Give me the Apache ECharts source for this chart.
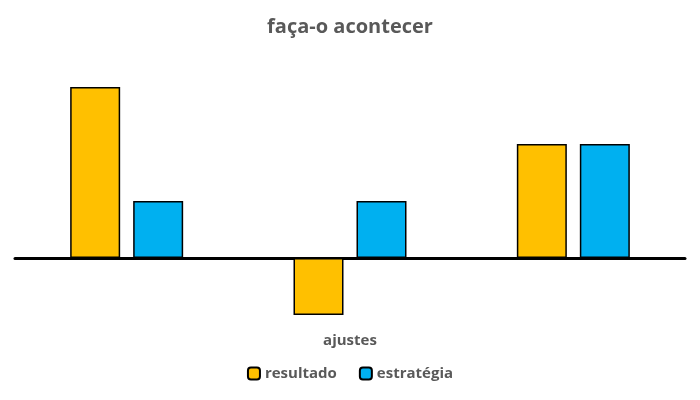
<html>
<head>
    <script src="https://cdnjs.cloudflare.com/ajax/libs/echarts/6.0.0/echarts.min.js"></script>
</head>
<body style="margin:0">
    <div id="main" style="width:700px;height:400px;"></div>
    <script>
        var categories = ['', 'ajustes', ''];
        var resultado = [3, -1, 2];
        var estrategia = [1, 1, 2];

        var myChart = echarts.init(document.getElementById('main'));
        var barStyle = { borderColor: '#000', borderWidth: 1.5 };
        myChart.setOption({
            title: {
                text: 'faça-o acontecer',
                left: 'center',
                top: 12,
                textStyle: { color: '#595959', fontSize: 20, fontWeight: 'bold', fontFamily: 'Open Sans' }
            },
            legend: {
                bottom: 14,
                itemWidth: 12,
                itemHeight: 12,
                itemGap: 22,
                textStyle: { color: '#595959', fontSize: 15, fontWeight: 'bold', fontFamily: 'Open Sans' }
            },
            grid: { left: 15, right: 15, top: 30, bottom: 85 },
            xAxis: {
                type: 'category',
                data: categories,
                axisTick: { show: false },
                axisLine: { lineStyle: { color: '#000', width: 3 } },
                axisLabel: { color: '#595959', fontSize: 15, fontWeight: 'bold', fontFamily: 'Open Sans', margin: 18 }
            },
            yAxis: {
                type: 'value', min: -1, max: 4, interval: 1,
                show: false
            },
            series: [
                { name: 'resultado', type: 'bar', data: resultado, barWidth: 50, barGap: '26%',
                  itemStyle: Object.assign({ color: '#FFC000' }, barStyle) },
                { name: 'estratégia', type: 'bar', data: estrategia, barWidth: 50,
                  itemStyle: Object.assign({ color: '#00B0F0' }, barStyle) }
            ]
        });
    </script>
</body>
</html>
